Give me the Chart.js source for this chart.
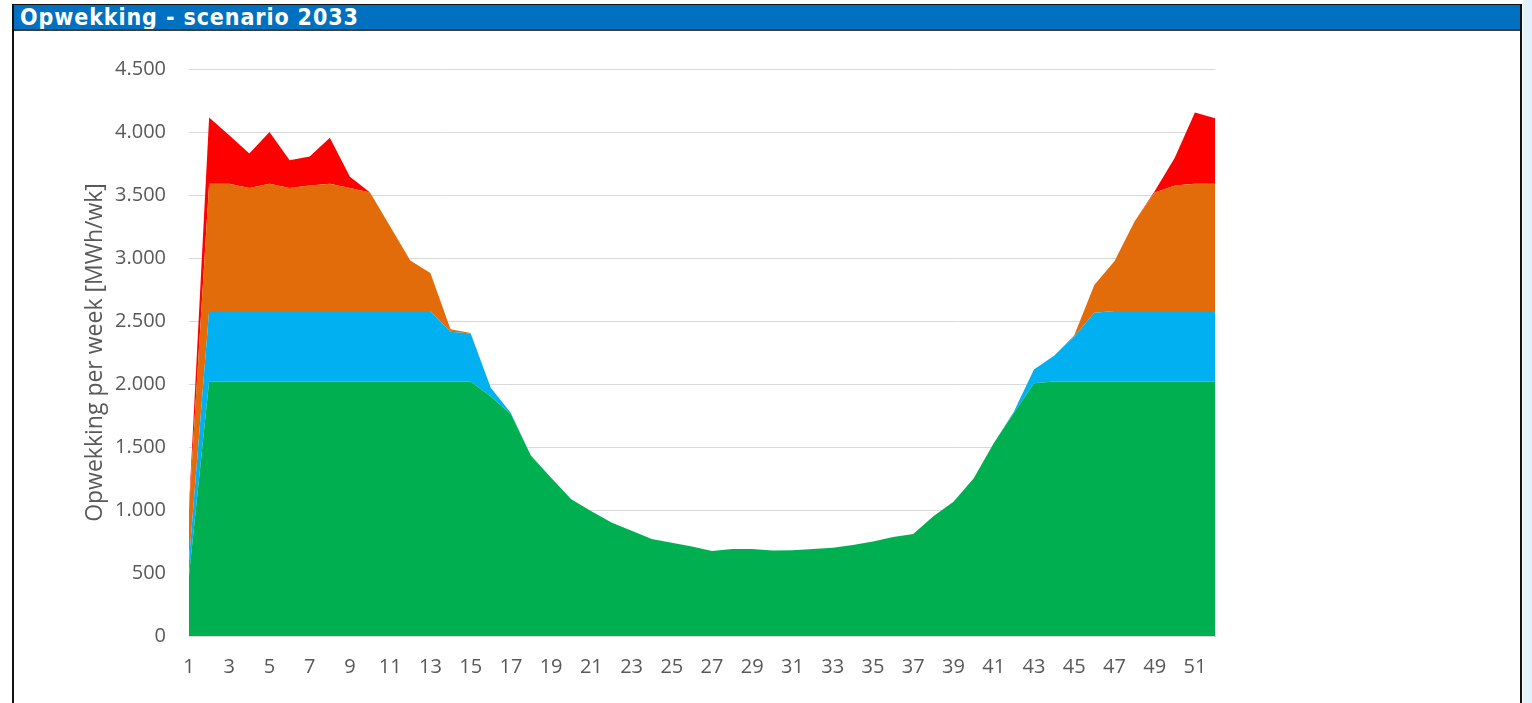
<!DOCTYPE html>
<html lang="nl">
<head>
<meta charset="utf-8">
<title>Opwekking - scenario 2033</title>
<script src="https://cdn.jsdelivr.net/npm/chart.js@4/dist/chart.umd.min.js"></script>
<style>
  html, body { margin: 0; padding: 0; }
  body { width: 1532px; height: 703px; overflow: hidden; background: #ffffff; position: relative; }
  .side { position: absolute; left: 1523px; top: 0; width: 9px; height: 703px; background: #e3f1fb; }
  .panel { position: absolute; left: 12px; top: 4px; width: 1506px; height: 760px;
           border: 2px solid #111; border-top-width: 1px; background: #ffffff; }
  .titlebar { height: 24px; background: #0070c0; border-bottom: 2px solid #3c3c3c;
              color: #ffffff; font: bold 23px "DejaVu Sans Condensed", "DejaVu Sans", sans-serif;
              letter-spacing: 0.9px; line-height: 24px; padding-left: 6px;
              white-space: nowrap; overflow: hidden; }
  .chartbox { position: absolute; left: 0; top: 0; width: 1532px; height: 703px; z-index: 2; }
</style>
</head>
<body>
<div class="side"></div>
<div class="panel"><div class="titlebar">Opwekking - scenario 2033</div></div>
<div class="chartbox"><canvas id="chart"></canvas></div>
<script>
// Weeks of the year (category axis)
const weeks = [1,2,3,4,5,6,7,8,9,10,11,12,13,14,15,16,17,18,19,20,21,22,23,24,25,26,
               27,28,29,30,31,32,33,34,35,36,37,38,39,40,41,42,43,44,45,46,47,48,49,50,51,52];

// Weekly generation per source, MWh/wk (stacked bottom to top)
const groen = [480,2020,2020,2020,2020,2020,2020,2020,2020,2020,2020,2020,2020,2020,2020,1900,1760,1430,1255,1085,
               990,900,835,770,740,710,675,690,690,678,680,690,700,722,750,785,810,950,1065,1250,
               1530,1770,2005,2020,2020,2020,2020,2020,2020,2020,2020,2020];
const blauw = [120,560,560,560,560,560,560,560,560,560,560,560,560,395,380,70,10,0,0,0,
               0,0,0,0,0,0,0,0,0,0,0,0,0,0,0,0,0,0,0,0,
               0,10,110,205,355,545,560,560,560,560,560,560];
const oranje = [400,1010,1010,975,1010,975,995,1010,975,940,670,400,300,20,5,0,0,0,0,0,
                0,0,0,0,0,0,0,0,0,0,0,0,0,0,0,0,0,0,0,0,
                0,0,0,0,10,220,395,710,940,995,1010,1010];
const rood = [30,525,385,275,410,220,230,365,90,0,0,0,0,0,0,0,0,0,0,0,
              0,0,0,0,0,0,0,0,0,0,0,0,0,0,0,0,0,0,0,0,
              0,0,0,0,0,0,0,0,10,220,565,520];

// Value axis ticks
const yTicks = [0,500,1000,1500,2000,2500,3000,3500,4000,4500];

const fontFamily = "'Open Sans', 'Liberation Sans', sans-serif";
const tickFont = { family: fontFamily, size: 20 };
const titleFont = { family: fontFamily, size: 23 };
const textGrey = '#595959';

function dutchThousands(v) {
  return String(v).replace(/\B(?=(\d{3})+(?!\d))/g, '.');
}

function area(label, data, color, fill) {
  return {
    label, data, fill,
    backgroundColor: color,
    borderColor: color,
    borderWidth: 0,
    pointRadius: 0,
    tension: 0
  };
}

new Chart(document.getElementById('chart'), {
  type: 'line',
  data: {
    labels: weeks,
    datasets: [
      area('Groen', groen, '#00b050', 'origin'),
      area('Blauw', blauw, '#00b0f0', '-1'),
      area('Oranje', oranje, '#e36c0a', '-1'),
      area('Rood', rood, '#ff0000', '-1')
    ]
  },
  options: {
    responsive: true,
    maintainAspectRatio: false,
    animation: false,
    events: [],
    layout: { padding: { left: 82, right: 317, top: 69, bottom: 0 } },
    plugins: { legend: { display: false }, tooltip: { enabled: false }, title: { display: false } },
    scales: {
      x: {
        type: 'category',
        offset: false,
        grid: { display: false, drawTicks: false },
        border: { display: true, color: '#d9d9d9', width: 1 },
        ticks: {
          autoSkip: false,
          maxRotation: 0,
          padding: 19,
          color: textGrey,
          font: tickFont,
          callback: function (value, index) {
            const w = weeks[index];
            return w % 2 === 1 ? String(w) : '';
          }
        },
        afterFit: function (scale) { scale.height = 67; }
      },
      y: {
        stacked: true,
        min: 0,
        max: 4500,
        afterBuildTicks: function (scale) { scale.ticks = yTicks.map(v => ({ value: v })); },
        grid: { color: '#d9d9d9', lineWidth: 1, drawTicks: false },
        border: { display: false },
        ticks: {
          padding: 23,
          color: textGrey,
          font: tickFont,
          callback: function (v) { return dutchThousands(v); }
        },
        title: {
          display: true,
          text: 'Opwekking per week [MWh/wk]',
          color: textGrey,
          font: titleFont,
          padding: { top: 0, bottom: 0 }
        },
        afterFit: function (scale) { scale.width = 107; }
      }
    }
  }
});
</script>
</body>
</html>
